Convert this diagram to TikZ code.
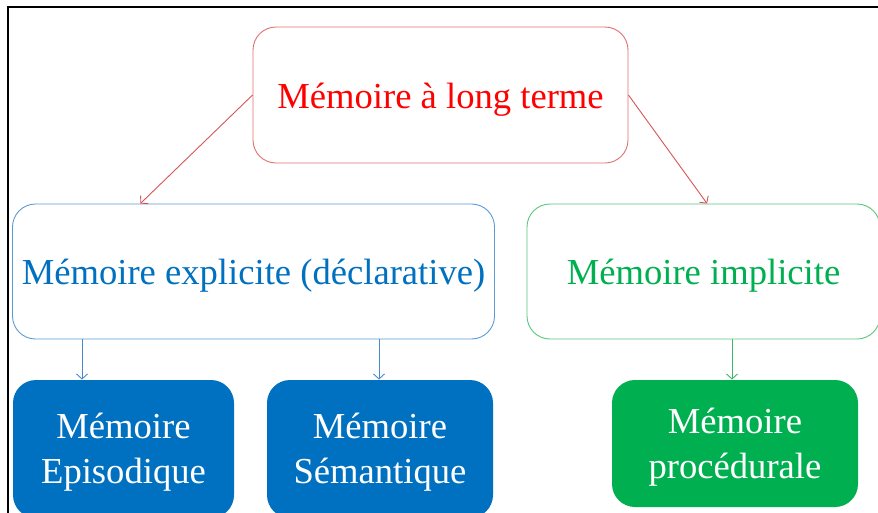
\documentclass[tikz,border=0pt]{standalone}
\usepackage{fontspec}
\setmainfont{Liberation Serif}
\usetikzlibrary{arrows.meta}
\definecolor{redline}{RGB}{226,112,112}
\definecolor{redarrow}{RGB}{214,86,86}
\definecolor{bluetext}{RGB}{0,112,192}
\definecolor{blueline}{RGB}{91,155,213}
\definecolor{bluearrow}{RGB}{70,140,205}
\definecolor{greentext}{RGB}{0,176,80}
\definecolor{greenline}{RGB}{90,200,125}
\definecolor{greenarrow}{RGB}{60,185,105}
\begin{document}
\begin{tikzpicture}[x=1pt,y=-1pt,
  box/.style={rounded corners=23pt, line width=0.9pt, inner sep=0pt, align=center,
    font=\fontsize{36.6}{45}\selectfont},
  outbox/.style={box, fill=white, text height=26pt, text depth=0pt},
  fillbox/.style={box, draw=none, text=white, text depth=0pt},
  conn/.style={line width=0.9pt, -{Straight Barb[length=5pt,width=11pt]}}]
\clip (0,0) rectangle (878,512);
\fill[white] (0,0) rectangle (878,512);
\draw[line width=2pt] (8,513) -- (8,7) -- (879,7);

\node[outbox, draw=redline, text=red, minimum width=375pt, minimum height=136pt] (top) at (440.5,95) {Mémoire à long terme};
\node[outbox, draw=blueline, text=bluetext, minimum width=482pt, minimum height=135pt] (expl) at (253.5,271.5) {Mémoire explicite (déclarative)};
\node[outbox, draw=greenline, text=greentext, minimum width=353pt, minimum height=135pt] (impl) at (703.5,271.5) {Mémoire implicite};

\node[fillbox, fill=bluetext, text height=68pt, minimum width=221pt, minimum height=138pt] (epi) at (123.5,449) {Mémoire\\Episodique};
\node[fillbox, fill=bluetext, text height=68pt, minimum width=226pt, minimum height=138pt] (sem) at (380,449) {Mémoire\\Sémantique};
\node[fillbox, fill=greentext, text height=69pt, minimum width=246pt, minimum height=127pt] (proc) at (735,443.5) {Mémoire\\procédurale};

\draw[conn, redarrow] (top.west) -- (expl.149);
\draw[conn, redarrow] (top.east) -- (impl.87);

\coordinate (a1) at (82,339);
\coordinate (a2) at (379,339);
\coordinate (a3) at (732,339);
\draw[conn, bluearrow] (a1) -- (a1 |- epi.north);
\draw[conn, bluearrow] (a2) -- (a2 |- sem.north);
\draw[conn, greenarrow] (a3) -- (a3 |- proc.north);
\end{tikzpicture}
\end{document}
